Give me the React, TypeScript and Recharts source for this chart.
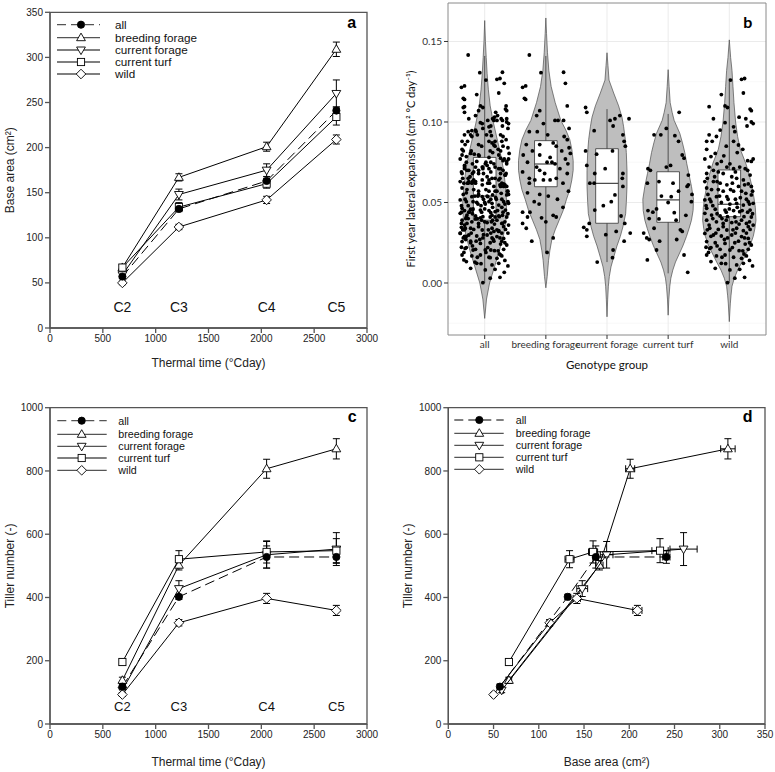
import React from 'react';
import {
  ComposedChart, Line, Scatter, XAxis, YAxis, ErrorBar, ReferenceArea,
  ReferenceDot, CartesianGrid, Legend,
} from 'recharts';

// ---------- shared categories ----------
const stageLabels = ['C2', 'C3', 'C4', 'C5'];
const thermalTime = [685, 1220, 2050, 2710];
const seriesNames = ['all', 'breeding forage', 'current forage', 'current turf', 'wild'];
const seriesMarkers = ['circle', 'up', 'down', 'square', 'diamond'];

// ---------- base area (cm2), panel a / d x ----------
const baseAll = [57, 132, 163, 241];
const baseAllErr = [2, 2, 3, 4];
const baseBreeding = [67, 167, 201, 309];
const baseBreedingErr = [3, 4, 5, 8];
const baseCurForage = [59, 148, 175, 260];
const baseCurForageErr = [2, 6, 7, 15];
const baseCurTurf = [67, 134, 160, 234];
const baseCurTurfErr = [3, 5, 5, 9];
const baseWild = [50, 112, 142, 209];
const baseWildErr = [2, 3, 4, 5];

// ---------- tiller number, panel c / d y ----------
const tillerAll = [118, 402, 528, 528];
const tillerAllErr = [8, 8, 35, 20];
const tillerBreeding = [138, 502, 807, 870];
const tillerBreedingErr = [10, 15, 30, 32];
const tillerCurForage = [107, 428, 535, 553];
const tillerCurForageErr = [8, 25, 42, 52];
const tillerCurTurf = [196, 521, 544, 548];
const tillerCurTurfErr = [10, 27, 35, 38];
const tillerWild = [93, 320, 397, 359];
const tillerWildErr = [6, 10, 16, 16];

// ---------- panel b: violins [value, half width] ----------
const violinAll = [[0.163, 0], [0.15, 0.012], [0.14, 0.025], [0.13, 0.04], [0.12, 0.06], [0.11, 0.09], [0.10, 0.14], [0.09, 0.2], [0.08, 0.26], [0.07, 0.31], [0.06, 0.34], [0.05, 0.36], [0.04, 0.35], [0.03, 0.31], [0.02, 0.24], [0.01, 0.16], [0.0, 0.08], [-0.01, 0.03], [-0.022, 0]];
const violinBreeding = [[0.1646, 0], [0.155, 0.011], [0.143, 0.027], [0.132, 0.049], [0.122, 0.087], [0.112, 0.153], [0.101, 0.245], [0.095, 0.327], [0.089, 0.392], [0.083, 0.425], [0.076, 0.447], [0.070, 0.447], [0.064, 0.425], [0.058, 0.392], [0.052, 0.338], [0.045, 0.283], [0.039, 0.218], [0.033, 0.153], [0.027, 0.098], [0.020, 0.065], [0.014, 0.044], [0.004, 0.022], [-0.003, 0]];
const violinCurForage = [[0.143, 0], [0.135, 0.016], [0.126, 0.033], [0.118, 0.109], [0.110, 0.19], [0.103, 0.245], [0.097, 0.272], [0.089, 0.30], [0.081, 0.316], [0.070, 0.327], [0.060, 0.327], [0.050, 0.316], [0.043, 0.305], [0.035, 0.261], [0.029, 0.218], [0.023, 0.163], [0.016, 0.109], [0.010, 0.065], [0.004, 0.038], [-0.002, 0.022], [-0.010, 0.011], [-0.021, 0]];
const violinCurTurf = [[0.1325, 0], [0.122, 0.016], [0.112, 0.033], [0.106, 0.065], [0.101, 0.098], [0.093, 0.19], [0.087, 0.234], [0.081, 0.272], [0.074, 0.305], [0.068, 0.338], [0.060, 0.381], [0.052, 0.414], [0.045, 0.408], [0.039, 0.381], [0.034, 0.343], [0.029, 0.30], [0.023, 0.24], [0.018, 0.18], [0.013, 0.12], [0.008, 0.076], [0.003, 0.044], [-0.002, 0.027], [-0.010, 0.011], [-0.020, 0]];
const violinWild = [[0.151, 0], [0.140, 0.022], [0.132, 0.044], [0.122, 0.06], [0.112, 0.076], [0.100, 0.103], [0.091, 0.136], [0.083, 0.18], [0.074, 0.272], [0.067, 0.327], [0.060, 0.37], [0.053, 0.403], [0.047, 0.425], [0.039, 0.436], [0.034, 0.419], [0.029, 0.392], [0.023, 0.338], [0.018, 0.272], [0.013, 0.207], [0.008, 0.136], [0.003, 0.082], [-0.002, 0.044], [-0.008, 0.027], [-0.013, 0.016], [-0.024, 0]];

// ---------- panel b: box plots ----------
const boxQ1 = [0.039, 0.0598, 0.0371, 0.0377, 0.0412];
const boxMedian = [0.054, 0.0739, 0.0619, 0.0516, 0.0489];
const boxQ3 = [0.078, 0.0884, 0.0834, 0.0691, 0.0702];
const whiskerLow = [0.0, 0.019, 0.013, 0.006, 0.0];
const whiskerHigh = [0.141, 0.141, 0.108, 0.105, 0.127];

// ---------- panel b: jittered points [offset, value] ----------
const breedingPoints = [[-0.27, 0.1416], [-0.08, 0.1306], [0.29, 0.1309], [0.32, 0.124], [-0.38, 0.1215], [-0.33, 0.1224], [-0.35, 0.1147], [-0.33, 0.114], [0.35, 0.110], [-0.10, 0.107], [-0.15, 0.104], [0.15, 0.101], [0.20, 0.101], [0.29, 0.101], [-0.04, 0.099], [0.38, 0.096], [-0.27, 0.094], [-0.14, 0.094], [0.03, 0.092], [0.30, 0.091], [0.35, 0.089], [-0.32, 0.086], [-0.10, 0.086], [0.12, 0.087], [0.17, 0.085], [0.38, 0.084], [-0.22, 0.082], [0.26, 0.082], [0.40, 0.0805], [-0.37, 0.0795], [-0.10, 0.0795], [0.07, 0.078], [0.32, 0.077], [-0.30, 0.075], [0.02, 0.075], [0.10, 0.075], [0.15, 0.074], [0.36, 0.074], [-0.15, 0.072], [-0.10, 0.070], [0.23, 0.071], [-0.38, 0.069], [-0.02, 0.068], [0.35, 0.068], [-0.27, 0.065], [-0.18, 0.064], [-0.04, 0.064], [0.07, 0.064], [0.17, 0.065], [-0.27, 0.062], [0.28, 0.062], [0.37, 0.057], [-0.30, 0.056], [-0.10, 0.055], [0.04, 0.054], [0.19, 0.052], [-0.19, 0.0505], [-0.11, 0.049], [0.28, 0.047], [-0.38, 0.044], [-0.26, 0.044], [0.12, 0.042], [0.17, 0.041], [-0.07, 0.0405], [-0.30, 0.041], [-0.38, 0.037], [-0.32, 0.034], [0.00, 0.038], [0.12, 0.028], [-0.23, 0.026], [0.02, 0.019]];
const curForagePoints = [[-0.35, 0.109], [-0.33, 0.106], [0.05, 0.101], [0.13, 0.102], [0.21, 0.104], [0.36, 0.102], [0.10, 0.0975], [-0.21, 0.0946], [0.26, 0.092], [0.28, 0.088], [0.30, 0.085], [-0.35, 0.082], [0.09, 0.082], [-0.17, 0.080], [-0.33, 0.073], [-0.03, 0.071], [-0.20, 0.068], [0.26, 0.068], [0.25, 0.065], [-0.28, 0.062], [-0.21, 0.062], [0.26, 0.060], [0.13, 0.0547], [0.07, 0.0505], [-0.06, 0.048], [-0.20, 0.0453], [0.23, 0.0416], [-0.29, 0.037], [0.29, 0.037], [-0.38, 0.0346], [-0.33, 0.033], [0.15, 0.032], [0.38, 0.031], [-0.33, 0.029], [-0.02, 0.030], [0.28, 0.026], [0.10, 0.0205], [-0.16, 0.013], [0.09, 0.0157]];
const curTurfPoints = [[0.18, 0.106], [-0.03, 0.096], [-0.12, 0.092], [-0.23, 0.092], [0.11, 0.0915], [0.17, 0.088], [0.23, 0.0795], [0.26, 0.0775], [-0.33, 0.071], [-0.29, 0.070], [0.04, 0.073], [-0.03, 0.072], [-0.15, 0.063], [0.08, 0.062], [0.33, 0.067], [0.33, 0.061], [-0.34, 0.062], [0.31, 0.060], [0.17, 0.057], [0.39, 0.055], [0.38, 0.0505], [0.05, 0.0536], [-0.11, 0.054], [0.00, 0.050], [-0.19, 0.046], [-0.33, 0.045], [-0.25, 0.044], [-0.31, 0.040], [-0.15, 0.0398], [0.10, 0.0437], [0.29, 0.042], [0.13, 0.039], [-0.40, 0.031], [-0.23, 0.034], [0.20, 0.033], [0.23, 0.032], [-0.35, 0.028], [-0.31, 0.027], [-0.14, 0.026], [0.14, 0.027], [-0.19, 0.0205], [0.26, 0.0174], [-0.34, 0.0143], [0.32, 0.0066]];
const wildPoints = [[0.20, 0.1265], [0.25, 0.127], [0.02, 0.126], [0.23, 0.118], [-0.13, 0.117], [-0.33, 0.1095], [-0.07, 0.110], [-0.03, 0.109], [0.34, 0.108], [0.36, 0.107], [0.16, 0.103], [0.27, 0.102], [0.36, 0.100], [0.39, 0.099], [-0.26, 0.102], [-0.07, 0.0996], [0.07, 0.097], [0.29, 0.0975], [-0.15, 0.095], [0.09, 0.094], [-0.33, 0.092], [-0.21, 0.091], [-0.37, 0.088], [0.07, 0.088], [-0.05, 0.085], [0.15, 0.0857], [-0.37, 0.083], [0.13, 0.081], [-0.23, 0.0805], [-0.30, 0.0785], [0.39, 0.077], [0.36, 0.0755], [-0.40, 0.077], [-0.13, 0.0755], [0.01, 0.074], [-0.04, 0.072], [-0.33, 0.072], [0.07, 0.071], [0.17, 0.072], [0.26, 0.071], [-0.26, 0.070], [-0.18, 0.069], [-0.37, 0.068], [-0.10, 0.068], [0.34, 0.067], [0.04, 0.066], [0.12, 0.065], [0.23, 0.064], [-0.40, 0.063], [-0.26, 0.063], [-0.15, 0.062], [-0.04, 0.061], [0.31, 0.0615], [0.36, 0.060], [-0.37, 0.059], [-0.29, 0.058], [-0.10, 0.057], [0.07, 0.057], [0.20, 0.057], [0.27, 0.0557], [0.36, 0.0547], [-0.21, 0.0536], [-0.04, 0.0536], [-0.40, 0.0516], [-0.30, 0.0505], [-0.13, 0.050], [0.01, 0.049], [0.12, 0.0495], [0.23, 0.0484], [0.31, 0.0505], [0.39, 0.0495], [-0.37, 0.0464], [-0.23, 0.0458], [-0.07, 0.0453], [0.07, 0.045], [0.17, 0.0443], [0.34, 0.0453], [-0.40, 0.0433], [-0.29, 0.0422], [-0.15, 0.0416], [-0.03, 0.0412], [0.09, 0.041], [0.24, 0.0412], [0.36, 0.041], [-0.37, 0.039], [-0.21, 0.038], [-0.10, 0.037], [0.04, 0.0375], [0.16, 0.0366], [0.28, 0.037], [0.39, 0.036], [-0.32, 0.034], [-0.18, 0.0333], [-0.04, 0.0329], [0.12, 0.034], [0.23, 0.0325], [0.34, 0.0333], [-0.40, 0.0308], [-0.26, 0.0298], [-0.13, 0.0292], [0.04, 0.0298], [0.20, 0.0288], [0.31, 0.0277], [-0.37, 0.0257], [-0.23, 0.025], [-0.07, 0.0246], [0.09, 0.025], [0.26, 0.0242], [0.36, 0.0236], [-0.38, 0.0222], [-0.32, 0.0215], [-0.15, 0.0209], [0.01, 0.0205], [0.16, 0.0201], [0.31, 0.0209], [-0.37, 0.0174], [-0.21, 0.0168], [-0.07, 0.0174], [0.07, 0.016], [0.20, 0.0153], [0.28, 0.0168], [-0.30, 0.0133], [-0.13, 0.0122], [0.12, 0.0112], [0.23, 0.0122], [0.38, 0.0106], [-0.23, 0.0091], [0.01, 0.0081], [0.17, 0.0085], [-0.03, 0.0002], [0.25, 0.0035], [0.09, 0.003], [-0.35, 0.055], [-0.18, 0.058], [0.05, 0.062], [0.15, 0.060], [0.28, 0.052], [-0.27, 0.048], [-0.05, 0.044], [0.13, 0.047], [0.30, 0.044], [-0.33, 0.036], [-0.12, 0.040], [0.20, 0.039], [0.31, 0.035], [-0.22, 0.031], [0.10, 0.031], [-0.08, 0.027], [0.25, 0.028], [-0.30, 0.022], [0.22, 0.020], [-0.02, 0.052], [0.18, 0.053], [-0.24, 0.066], [0.30, 0.070], [-0.09, 0.079], [0.22, 0.083], [-0.28, 0.088], [-0.36, 0.065], [-0.20, 0.063], [0.02, 0.058], [0.25, 0.061], [0.38, 0.057], [-0.32, 0.052], [-0.16, 0.054], [0.10, 0.052], [0.33, 0.049], [-0.38, 0.048], [-0.20, 0.043], [0.00, 0.046], [0.21, 0.045], [0.38, 0.043], [-0.27, 0.040], [-0.05, 0.039], [0.11, 0.038], [0.33, 0.038], [-0.36, 0.033], [-0.10, 0.035], [0.06, 0.033], [0.28, 0.031], [-0.30, 0.029], [-0.03, 0.028], [0.15, 0.026], [0.33, 0.025], [-0.20, 0.023], [0.05, 0.022], [0.24, 0.018], [-0.34, 0.019], [-0.12, 0.016], [0.33, 0.014], [-0.06, 0.012], [0.30, 0.076], [-0.20, 0.074], [0.10, 0.069]];

// ---------- derived collections ----------
const baseValues = [baseAll, baseBreeding, baseCurForage, baseCurTurf, baseWild];
const baseErrors = [baseAllErr, baseBreedingErr, baseCurForageErr, baseCurTurfErr, baseWildErr];
const tillerValues = [tillerAll, tillerBreeding, tillerCurForage, tillerCurTurf, tillerWild];
const tillerErrors = [tillerAllErr, tillerBreedingErr, tillerCurForageErr, tillerCurTurfErr, tillerWildErr];
const violinProfiles = [violinAll, violinBreeding, violinCurForage, violinCurTurf, violinWild];
const allGroupPoints = [...breedingPoints, ...curForagePoints, ...curTurfPoints, ...wildPoints];
const groupPoints = [allGroupPoints, breedingPoints, curForagePoints, curTurfPoints, wildPoints];

const FONT = '"Liberation Sans", Arial, Helvetica, sans-serif';
const FONT_B = 'Lato, "Open Sans", "Noto Sans", sans-serif';
const AXIS = '#555';
const drawOrder = [1, 2, 3, 4, 0];
const BOX_HALF = 0.185;

function Marker({ cx, cy, kind }: any) {
  if (cx == null || cy == null || isNaN(cx) || isNaN(cy)) return null;
  const sw = 0.9;
  switch (kind) {
    case 'circle':
      return <circle cx={cx} cy={cy} r={3.6} fill="#000" stroke="#000" strokeWidth={sw} />;
    case 'up':
      return <polygon points={`${cx},${cy - 4.6} ${cx + 4.4},${cy + 3} ${cx - 4.4},${cy + 3}`} fill="#fff" stroke="#000" strokeWidth={sw} />;
    case 'down':
      return <polygon points={`${cx},${cy + 4.6} ${cx + 4.4},${cy - 3} ${cx - 4.4},${cy - 3}`} fill="#fff" stroke="#000" strokeWidth={sw} />;
    case 'square':
      return <rect x={cx - 3.6} y={cy - 3.6} width={7.2} height={7.2} fill="#fff" stroke="#000" strokeWidth={sw} />;
    default:
      return <polygon points={`${cx},${cy - 4.8} ${cx + 4.8},${cy} ${cx},${cy + 4.8} ${cx - 4.8},${cy}`} fill="#fff" stroke="#000" strokeWidth={sw} />;
  }
}

function SeriesLegend({ rows, lineX1, lineX2, markerX, textX, fontSize }: any) {
  return (
    <svg width={200} height={70} style={{ display: 'block', overflow: 'visible', fontFamily: FONT }}>
      {seriesNames.map((name, k) => (
        <g key={name}>
          <line x1={lineX1} x2={lineX2} y1={rows[k]} y2={rows[k]} stroke="#555" strokeWidth={1.3}
            strokeDasharray={k === 0 ? '9 5' : undefined} />
          <Marker cx={markerX} cy={rows[k]} kind={seriesMarkers[k]} />
          <text x={textX} y={rows[k]} dy="0.36em" fontSize={fontSize} fill="#111">{name}</text>
        </g>
      ))}
    </svg>
  );
}

function TimeChart({ values, errors, yMax, yTicks, yLabel, stageY, stageFont, height, marginTop, xAxisHeight, labelOffset, legend }: any) {
  const rows = thermalTime.map((t, i) => {
    const r: any = { t };
    values.forEach((arr: number[], k: number) => {
      r['s' + k] = arr[i];
      r['e' + k] = errors[k][i];
    });
    return r;
  });
  return (
    <ComposedChart width={385} height={height} data={rows} margin={{ top: marginTop, right: 18, bottom: 0, left: 0 }}>
      <XAxis type="number" dataKey="t" domain={[0, 3000]} ticks={[0, 500, 1000, 1500, 2000, 2500, 3000]}
        allowDataOverflow stroke={AXIS} strokeWidth={1.3} tickSize={5} height={xAxisHeight}
        tick={{ fontSize: 10, fill: '#222' }}
        label={{ value: 'Thermal time (°Cday)', position: 'insideBottom', offset: labelOffset, fontSize: 12, fill: '#222' }} />
      <YAxis type="number" domain={[0, yMax]} ticks={yTicks} allowDataOverflow width={50}
        stroke={AXIS} strokeWidth={1.3} tickSize={5} tick={{ fontSize: 10, fill: '#222' }}
        label={{ value: yLabel, angle: -90, position: 'insideLeft', offset: 10, fontSize: 12, fill: '#222', style: { textAnchor: 'middle' } }} />
      <ReferenceArea x1={0} x2={3000} y1={0} y2={yMax} fill="none" fillOpacity={0} stroke={AXIS} strokeWidth={1.3} ifOverflow="visible" />
      {stageLabels.map((s, i) => (
        <ReferenceDot key={s} x={thermalTime[i]} y={stageY} r={1} fill="none" stroke="none"
          label={{ value: s, position: 'center', fontSize: stageFont, fill: '#111' }} />
      ))}
      {drawOrder.map((k) => (
        <Line key={k} type="linear" dataKey={'s' + k} name={seriesNames[k]} stroke="#000" strokeWidth={1}
          strokeDasharray={k === 0 ? '10 5' : undefined} isAnimationActive={false} activeDot={false}
          dot={(p: any) => <Marker key={`d${k}-${p.index}`} cx={p.cx} cy={p.cy} kind={seriesMarkers[k]} />}>
          <ErrorBar dataKey={'e' + k} width={3.5} stroke="#000" strokeWidth={1} direction="y" isAnimationActive={false} />
        </Line>
      ))}
      <Legend layout="horizontal" verticalAlign="middle" align="center"
        wrapperStyle={{ left: legend.left, top: legend.top, width: 200, height: 70 }}
        content={() => <SeriesLegend {...legend} />} />
    </ComposedChart>
  );
}

function BaseTillerChart() {
  const legend = { left: 62, top: 27, rows: [8, 21.3, 33.3, 45.3, 57.3], lineX1: 7.3, lineX2: 56.7, markerX: 32.3, textX: 68.7, fontSize: 10.7 };
  return (
    <ComposedChart width={390} height={387} margin={{ top: 22.7, right: 10, bottom: 0, left: 0 }}>
      <XAxis type="number" dataKey="x" domain={[0, 350]} ticks={[0, 50, 100, 150, 200, 250, 300, 350]}
        allowDataOverflow stroke={AXIS} strokeWidth={1.3} tickSize={5} height={48}
        tick={{ fontSize: 10, fill: '#222' }}
        label={{ value: 'Base area (cm²)', position: 'insideBottom', offset: 6, fontSize: 12, fill: '#222' }} />
      <YAxis type="number" dataKey="y" domain={[0, 1000]} ticks={[0, 200, 400, 600, 800, 1000]} allowDataOverflow
        width={63.3} stroke={AXIS} strokeWidth={1.3} tickSize={5} tick={{ fontSize: 10, fill: '#222' }}
        label={{ value: 'Tiller number (-)', angle: -90, position: 'insideLeft', offset: 23, fontSize: 12, fill: '#222', style: { textAnchor: 'middle' } }} />
      <ReferenceArea x1={0} x2={350} y1={0} y2={1000} fill="none" fillOpacity={0} stroke={AXIS} strokeWidth={1.3} ifOverflow="visible" />
      {drawOrder.map((k) => {
        const pts = baseValues[k].map((x, i) => ({ x, y: tillerValues[k][i], ex: baseErrors[k][i], ey: tillerErrors[k][i] }));
        return (
          <Scatter key={k} name={seriesNames[k]} data={pts} fill="#000" isAnimationActive={false}
            line={{ stroke: '#000', strokeWidth: 1, strokeDasharray: k === 0 ? '10 5' : undefined }} lineJointType="linear"
            shape={(p: any) => <Marker cx={p.cx} cy={p.cy} kind={seriesMarkers[k]} />}>
            <ErrorBar dataKey="ex" direction="x" width={3.5} stroke="#000" strokeWidth={1} isAnimationActive={false} />
            <ErrorBar dataKey="ey" direction="y" width={3.5} stroke="#000" strokeWidth={1} isAnimationActive={false} />
          </Scatter>
        );
      })}
      <Legend layout="horizontal" verticalAlign="middle" align="center"
        wrapperStyle={{ left: legend.left, top: legend.top, width: 200, height: 70 }}
        content={() => <SeriesLegend {...legend} />} />
    </ComposedChart>
  );
}

const pathOf = (pts: any[], close: boolean) =>
  pts.map((p, i) => `${i ? 'L' : 'M'}${p.x},${p.y}`).join(' ') + (close ? ' Z' : '');
const emptyShape = () => <g />;

function ViolinChart() {
  const yMin = -0.0323;
  const yMax = 0.1739;
  const jitter: any[] = [];
  groupPoints.forEach((arr, g) => arr.forEach(([o, v]) => jitter.push({ x: g + 1 + o, y: v })));
  return (
    <ComposedChart width={390} height={372} margin={{ top: 3, right: 9, bottom: 0, left: 0 }}>
      <CartesianGrid horizontalValues={[-0.025, 0.025, 0.075, 0.125]} vertical={false} stroke="#f3f3f3" strokeWidth={0.6} />
      <CartesianGrid horizontalValues={[0, 0.05, 0.1, 0.15]} verticalValues={[1, 2, 3, 4, 5]} stroke="#ebebeb" strokeWidth={1} />
      <XAxis type="number" dataKey="x" domain={[0.4, 5.6]} ticks={[1, 2, 3, 4, 5]} interval={0} allowDataOverflow
        tickFormatter={(v: number) => seriesNames[Math.round(v) - 1]} axisLine={false} tickSize={4}
        tickLine={{ stroke: '#333' }} height={37} tick={{ fontSize: 10, fill: '#333' }}
        label={{ value: 'Genotype group', position: 'insideBottom', offset: 3, fontSize: 11.5, fill: '#111' }} />
      <YAxis type="number" dataKey="y" domain={[yMin, yMax]} ticks={[0, 0.05, 0.1, 0.15]} allowDataOverflow
        tickFormatter={(v: number) => v.toFixed(2)} width={63} axisLine={false} tickSize={4}
        tickLine={{ stroke: '#333' }} tick={{ fontSize: 10, fill: '#333' }}
        label={{ value: 'First year lateral expansion (cm² °C day⁻¹)', angle: -90, position: 'insideLeft', offset: 26, fontSize: 11, fill: '#111', style: { textAnchor: 'middle' } }} />
      {violinProfiles.map((prof, g) => {
        const c = g + 1;
        const outline = [
          ...prof.map(([v, w]) => ({ x: c + w, y: v })),
          ...prof.slice().reverse().map(([v, w]) => ({ x: c - w, y: v })),
        ];
        return (
          <Scatter key={'v' + g} data={outline} isAnimationActive={false} shape={emptyShape} lineJointType="linear"
            line={(lp: any) => <path d={pathOf(lp.points, true)} fill="#bebebe" stroke="#4d4d4d" strokeWidth={0.7} />} />
        );
      })}
      {seriesNames.map((n, g) => {
        const c = g + 1;
        return (
          <Scatter key={'w' + g} data={[{ x: c, y: whiskerLow[g] }, { x: c, y: whiskerHigh[g] }]} isAnimationActive={false}
            shape={emptyShape} lineJointType="linear"
            line={(lp: any) => <path d={pathOf(lp.points, false)} fill="none" stroke="#333" strokeWidth={0.8} />} />
        );
      })}
      {seriesNames.map((n, g) => {
        const c = g + 1;
        const rect = [
          { x: c - BOX_HALF, y: boxQ3[g] }, { x: c + BOX_HALF, y: boxQ3[g] },
          { x: c + BOX_HALF, y: boxQ1[g] }, { x: c - BOX_HALF, y: boxQ1[g] },
        ];
        return (
          <Scatter key={'b' + g} data={rect} isAnimationActive={false} shape={emptyShape} lineJointType="linear"
            line={(lp: any) => <path d={pathOf(lp.points, true)} fill="#fff" stroke="#333" strokeWidth={0.8} />} />
        );
      })}
      {seriesNames.map((n, g) => {
        const c = g + 1;
        return (
          <Scatter key={'m' + g} data={[{ x: c - BOX_HALF, y: boxMedian[g] }, { x: c + BOX_HALF, y: boxMedian[g] }]}
            isAnimationActive={false} shape={emptyShape} lineJointType="linear"
            line={(lp: any) => <path d={pathOf(lp.points, false)} fill="none" stroke="#333" strokeWidth={1.1} />} />
        );
      })}
      <Scatter data={jitter} isAnimationActive={false} fill="#000"
        shape={(p: any) => <circle cx={p.cx} cy={p.cy} r={1.9} fill="#000" />} />
      <ReferenceArea x1={0.4} x2={5.6} y1={yMin} y2={yMax} fill="none" fillOpacity={0} stroke="#8a8a8a" strokeWidth={1} ifOverflow="visible" />
    </ComposedChart>
  );
}

function PanelLetter({ x, y, text, font }: any) {
  return (
    <div style={{ position: 'absolute', left: x, top: y, transform: 'translate(-50%, -50%)', fontFamily: font,
      fontWeight: 700, fontSize: 16, lineHeight: 1, color: '#000' }}>{text}</div>
  );
}

export default function App() {
  const legendA = { left: 50, top: 16, rows: [8.7, 21.7, 34, 46, 58], lineX1: 7, lineX2: 50, markerX: 31, textX: 65, fontSize: 11.7 };
  const legendC = { left: 50, top: 27, rows: [8.7, 22.3, 34.3, 46, 58.3], lineX1: 7.3, lineX2: 56.7, markerX: 31.7, textX: 68.3, fontSize: 10.7 };
  return (
    <div style={{ position: 'absolute', left: 0, top: 0, width: 775, height: 772, background: '#fff', fontFamily: FONT, overflow: 'hidden' }}>
      <div style={{ position: 'absolute', left: 0, top: 0 }}>
        <TimeChart values={baseValues} errors={baseErrors} yMax={350} yTicks={[0, 50, 100, 150, 200, 250, 300, 350]}
          yLabel="Base area (cm²)" stageY={23} stageFont={14} height={372} marginTop={12.3} xAxisHeight={44} labelOffset={5} legend={legendA} />
      </div>
      <div style={{ position: 'absolute', left: 385, top: 0, fontFamily: FONT_B }}>
        <ViolinChart />
      </div>
      <div style={{ position: 'absolute', left: 0, top: 385 }}>
        <TimeChart values={tillerValues} errors={tillerErrors} yMax={1000} yTicks={[0, 200, 400, 600, 800, 1000]}
          yLabel="Tiller number (-)" stageY={57} stageFont={13} height={387} marginTop={22.7} xAxisHeight={48} labelOffset={6} legend={legendC} />
      </div>
      <div style={{ position: 'absolute', left: 385, top: 385 }}>
        <BaseTillerChart />
      </div>
      <PanelLetter x={351.7} y={22.7} text="a" font={FONT} />
      <PanelLetter x={747.7} y={21.7} text="b" font={FONT_B} />
      <PanelLetter x={352.3} y={417.3} text="c" font={FONT} />
      <PanelLetter x={747.7} y={416.7} text="d" font={FONT} />
    </div>
  );
}
